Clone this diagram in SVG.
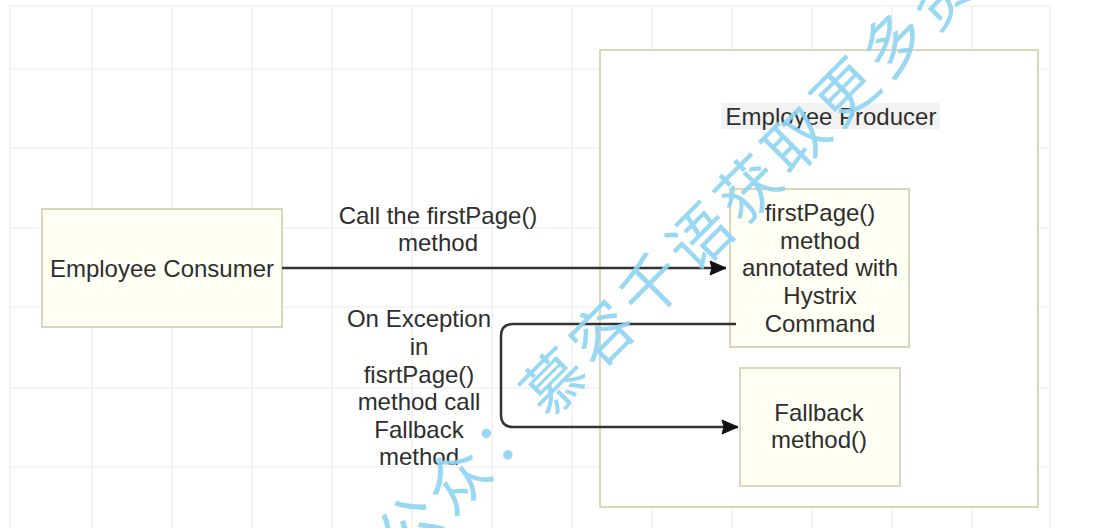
<svg xmlns="http://www.w3.org/2000/svg" width="1101" height="528" viewBox="0 0 1101 528">
  <style>
    .grid { stroke: #ebebeb; stroke-width: 1.2; fill: none; }
    .box { fill: #fffff4; stroke: #d8d8bc; stroke-width: 2; }
    .outer { fill: #ffffff; stroke: #d8d8bc; stroke-width: 2; }
    .lbl { font-family: "Liberation Sans", Arial, sans-serif; font-size: 24px; fill: #2e2e2e; text-anchor: middle; }
    .edge { fill: none; stroke: #333333; stroke-width: 2.5; }
    .wm { font-family: "Noto Sans CJK SC", "Noto Sans CJK JP", sans-serif; font-size: 62px; fill: #8fd4f2; letter-spacing: 6.5px; }
  </style>
  <defs>
    <marker id="arrow" markerUnits="userSpaceOnUse" markerWidth="18" markerHeight="16" refX="16" refY="8" orient="auto" overflow="visible">
      <path d="M0,1 L16,8 L0,15 L2,8 z" fill="#111111" stroke="#111111" stroke-width="1" stroke-linejoin="miter"/>
    </marker>
  </defs>
  <rect x="0" y="0" width="1101" height="528" fill="#ffffff"/>
  <g id="grid" class="grid">
    <path d="M10,6 V528 M92,6 V528 M172,6 V528 M252,6 V528 M332,6 V528 M412,6 V528 M492,6 V528 M572,6 V528 M652,6 V528 M732,6 V528 M812,6 V528 M892,6 V528 M972,6 V528 M1050,6 V528"/>
    <path d="M10,6 H1050 M10,69 H1050 M10,148 H1050 M10,228 H1050 M10,307 H1050 M10,388 H1050 M10,467 H1050"/>
  </g>

  <g id="producer">
    <rect class="outer" x="600" y="50" width="438" height="457"/>
    <rect x="721" y="103" width="219" height="26" fill="#f2f2f2"/>
    <text class="lbl" x="831" y="125">Employee Producer</text>
  </g>

  <g id="consumer">
    <rect class="box" x="42" y="209" width="240" height="118"/>
    <text class="lbl" x="162" y="277">Employee Consumer</text>
  </g>

  <g id="firstpage">
    <rect class="box" x="730" y="189" width="179" height="158"/>
    <text class="lbl" x="820" y="221">firstPage()</text>
    <text class="lbl" x="820" y="249">method</text>
    <text class="lbl" x="820" y="276">annotated with</text>
    <text class="lbl" x="820" y="304">Hystrix</text>
    <text class="lbl" x="820" y="332">Command</text>
  </g>

  <g id="fallback">
    <rect class="box" x="740" y="368" width="160" height="118"/>
    <text class="lbl" x="819" y="421">Fallback</text>
    <text class="lbl" x="819" y="448">method()</text>
  </g>

  <g id="connectors">
    <path class="edge" d="M282,268 H726" marker-end="url(#arrow)"/>
    <path class="edge" d="M736,324 H513 Q501,324 501,336 V415 Q501,427 513,427 H738" marker-end="url(#arrow)"/>
    <g id="label-call">
      <text class="lbl" x="438" y="224">Call the firstPage()</text>
      <text class="lbl" x="438" y="251">method</text>
    </g>
    <g id="label-exception">
      <text class="lbl" x="419" y="327">On Exception</text>
      <text class="lbl" x="419" y="355">in</text>
      <text class="lbl" x="419" y="383">fisrtPage()</text>
      <text class="lbl" x="419" y="410">method call</text>
      <text class="lbl" x="419" y="438">Fallback</text>
      <text class="lbl" x="419" y="465">method</text>
    </g>
  </g>

  <g id="watermark" opacity="0.9">
    <text class="wm" transform="translate(553,382) rotate(-45)" x="-236" y="24">公众：慕容千语获取更多资料</text>
  </g>
</svg>
